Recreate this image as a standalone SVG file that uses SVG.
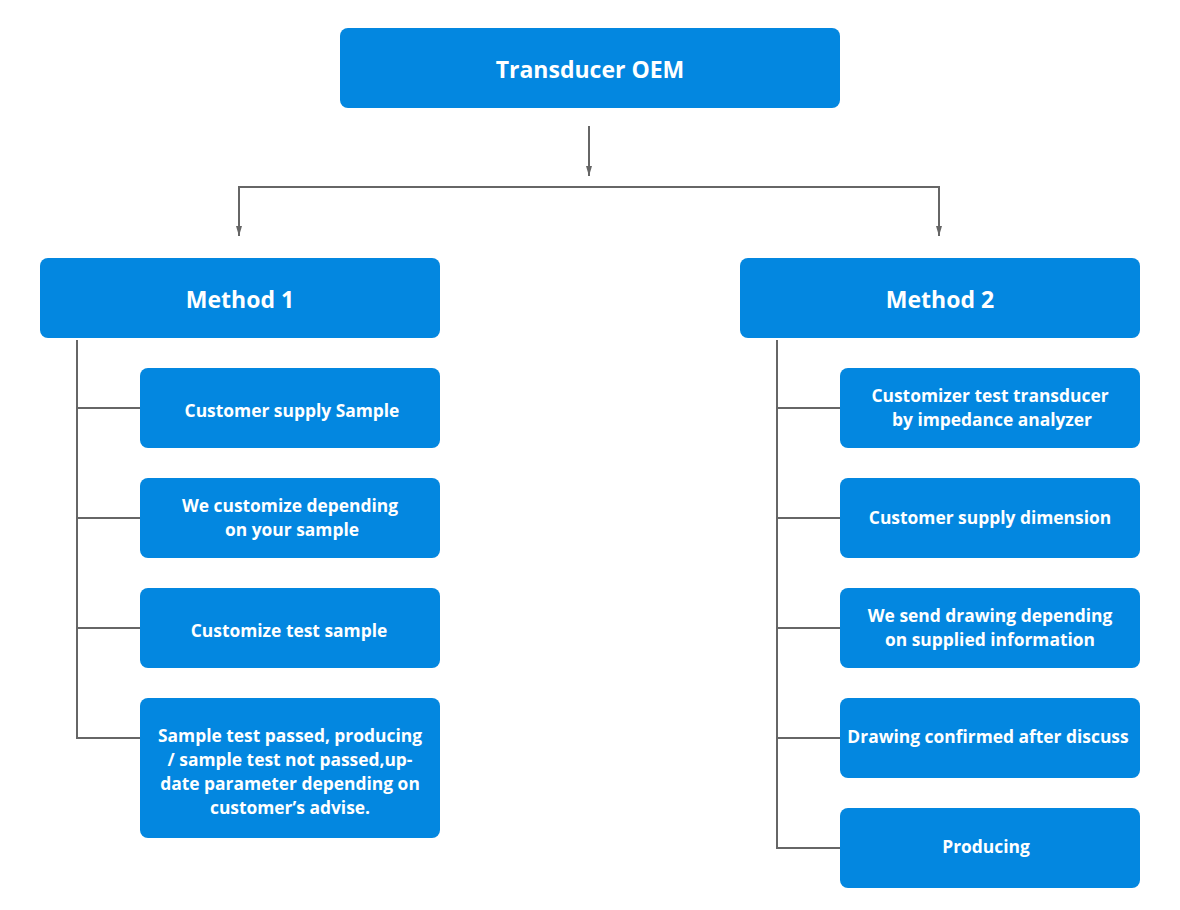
<svg xmlns="http://www.w3.org/2000/svg" width="1180" height="910" viewBox="0 0 1180 910">
<style>
.box{fill:#0387e0}
.t{fill:#fff;font-family:"Open Sans","Liberation Sans",sans-serif;font-weight:700;text-anchor:middle;dominant-baseline:central}
.big{font-size:23px}
.sm{font-size:17.4px}
.ln{stroke:#666;stroke-width:2;fill:none}
</style>
<defs>
<marker id="ah" viewBox="0 0 10 6" refX="10" refY="3" markerWidth="10" markerHeight="6" markerUnits="userSpaceOnUse" orient="auto">
<path d="M0,0 L10,3 L0,6 Z" fill="#666"/>
</marker>
</defs>
<g id="connectors">
<line class="ln" x1="589" y1="126" x2="589" y2="176" marker-end="url(#ah)"/>
<polyline class="ln" points="239,235 239,187 939,187 939,235"/>
<line class="ln" x1="239" y1="187" x2="239" y2="236" marker-end="url(#ah)"/>
<line class="ln" x1="939" y1="187" x2="939" y2="236" marker-end="url(#ah)"/>
<line class="ln" x1="77" y1="340" x2="77" y2="739"/>
<line class="ln" x1="77" y1="408" x2="140" y2="408"/>
<line class="ln" x1="77" y1="518" x2="140" y2="518"/>
<line class="ln" x1="77" y1="628" x2="140" y2="628"/>
<line class="ln" x1="77" y1="738" x2="140" y2="738"/>
<line class="ln" x1="777" y1="340" x2="777" y2="849"/>
<line class="ln" x1="777" y1="408" x2="840" y2="408"/>
<line class="ln" x1="777" y1="518" x2="840" y2="518"/>
<line class="ln" x1="777" y1="628" x2="840" y2="628"/>
<line class="ln" x1="777" y1="738" x2="840" y2="738"/>
<line class="ln" x1="777" y1="848" x2="840" y2="848"/>
</g>
<g id="root"><rect class="box" x="340" y="28" width="500" height="80" rx="8"/><text class="t big" x="590" y="69">Transducer OEM</text></g>
<g id="m1"><rect class="box" x="40" y="258" width="400" height="80" rx="8"/><text class="t big" x="240" y="299">Method 1</text></g>
<g id="m2"><rect class="box" x="740" y="258" width="400" height="80" rx="8"/><text class="t big" x="940" y="299">Method 2</text></g>
<g id="m1s1"><rect class="box" x="140" y="368" width="300" height="80" rx="8"/><text class="t sm" x="292" y="410">Customer supply Sample</text></g>
<g id="m1s2"><rect class="box" x="140" y="478" width="300" height="80" rx="8"/><text class="t sm" x="290" y="505">We customize depending</text><text class="t sm" x="292" y="529">on your sample</text></g>
<g id="m1s3"><rect class="box" x="140" y="588" width="300" height="80" rx="8"/><text class="t sm" x="289" y="630">Customize test sample</text></g>
<g id="m1s4"><rect class="box" x="140" y="698" width="300" height="140" rx="8"/><text class="t sm" x="290" y="735">Sample test passed, producing</text><text class="t sm" x="290" y="759">/ sample test not passed,up-</text><text class="t sm" x="290" y="783">date parameter depending on</text><text class="t sm" x="290" y="807">customer’s advise.</text></g>
<g id="m2s1"><rect class="box" x="840" y="368" width="300" height="80" rx="8"/><text class="t sm" x="990" y="395">Customizer test transducer</text><text class="t sm" x="992" y="419">by impedance analyzer</text></g>
<g id="m2s2"><rect class="box" x="840" y="478" width="300" height="80" rx="8"/><text class="t sm" x="990" y="517">Customer supply dimension</text></g>
<g id="m2s3"><rect class="box" x="840" y="588" width="300" height="80" rx="8"/><text class="t sm" x="990" y="615">We send drawing depending</text><text class="t sm" x="990" y="639">on supplied information</text></g>
<g id="m2s4"><rect class="box" x="840" y="698" width="300" height="80" rx="8"/><text class="t sm" x="988" y="736">Drawing confirmed after discuss</text></g>
<g id="m2s5"><rect class="box" x="840" y="808" width="300" height="80" rx="8"/><text class="t sm" x="986" y="846">Producing</text></g>
</svg>
